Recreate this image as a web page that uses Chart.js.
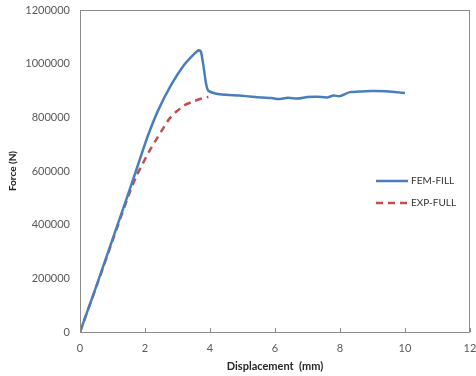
<!DOCTYPE html>
<html lang="en">
<head>
    <meta charset="UTF-8">
    <title>Force vs Displacement</title>
    <script src="https://cdn.jsdelivr.net/npm/chart.js"></script>
    <style>
        * {
            padding: 0px;
            margin: 0px;
            box-sizing: border-box;
        }

        body {
            background-color: #ffffff;
        }

        .chart-container {
            width: 476px;
            height: 376px;
        }
    </style>
</head>

<body>
    <div class="chart-container">
        <canvas id="chart1"></canvas>
    </div>

    <script>
        // FEM-FILL (blue, solid)
        const femX = [0, 0.5, 1.0, 1.5, 1.9, 2.1, 2.4, 2.8, 3.2, 3.5, 3.65, 3.72, 3.8, 3.88, 3.95, 4.2, 4.5, 4.9, 5.3, 5.6, 5.9, 6.1, 6.4, 6.7, 7.0, 7.3, 7.6, 7.8, 8.0, 8.3, 8.6, 9.0, 9.4, 9.8, 10.0];
        const femY = [0, 170000, 345000, 520000, 665000, 735000, 825000, 920000, 995000, 1035000, 1050000, 1045000, 990000, 925000, 899000, 888000, 884000, 881000, 877000, 874000, 872000, 868000, 873000, 870000, 876000, 877000, 874000, 881000, 879000, 894000, 896000, 898000, 897000, 893000, 891000];

        // EXP-FULL (red, dashed)
        const expX = [0, 0.5, 1.0, 1.5, 1.75, 1.95, 2.15, 2.35, 2.56, 2.77, 3.0, 3.2, 3.5, 3.75, 3.95];
        const expY = [0, 168000, 340000, 510000, 585000, 632000, 678000, 718000, 759000, 798000, 825000, 844000, 860000, 870000, 876000];

        const xTicks = [0, 2, 4, 6, 8, 10, 12];
        const yTicks = [0, 200000, 400000, 600000, 800000, 1000000, 1200000];

        const seriesNames = ['FEM-FILL', 'EXP-FULL'];

        const toPoints = (xs, ys) => xs.map((x, i) => ({ x: x, y: ys[i] }));

        const axisGray = '#8c8c8c';
        const labelGray = '#595959';

        // frame, inward x ticks and legend
        const framePlugin = {
            id: 'frame',
            afterDraw(chart) {
                const ctx = chart.ctx;
                const a = chart.chartArea;
                const xs = chart.scales.x;
                ctx.save();
                ctx.strokeStyle = axisGray;
                ctx.lineWidth = 1;
                ctx.strokeRect(a.left + 0.5, a.top + 0.5, a.right - a.left - 1, a.bottom - a.top);
                xTicks.forEach(t => {
                    const px = Math.round(xs.getPixelForValue(t)) + 0.5;
                    ctx.beginPath();
                    ctx.moveTo(px, a.bottom);
                    ctx.lineTo(px, a.bottom - 4);
                    ctx.stroke();
                });

                // legend
                ctx.font = '10px Lato';
                ctx.textBaseline = 'middle';
                ctx.fillStyle = '#333333';
                chart.data.datasets.forEach((ds, i) => {
                    const y = 181 + i * 22;
                    ctx.beginPath();
                    ctx.strokeStyle = ds.borderColor;
                    ctx.lineWidth = ds.borderWidth;
                    ctx.setLineDash(ds.borderDash || []);
                    ctx.moveTo(376, y);
                    ctx.lineTo(408, y);
                    ctx.stroke();
                    ctx.setLineDash([]);
                    ctx.fillText(ds.label, 411, y);
                });
                ctx.restore();
            }
        };

        const ctx = document.getElementById('chart1').getContext('2d');
        new Chart(ctx, {
            type: 'scatter',
            data: {
                datasets: [{
                    label: seriesNames[0],
                    data: toPoints(femX, femY),
                    showLine: true,
                    borderColor: '#4a7ebb',
                    borderWidth: 2.5,
                    pointRadius: 0,
                    tension: 0.25
                }, {
                    label: seriesNames[1],
                    data: toPoints(expX, expY),
                    showLine: true,
                    borderColor: '#c0504d',
                    borderWidth: 2.5,
                    borderDash: [7, 5],
                    pointRadius: 0,
                    tension: 0.3
                }]
            },
            options: {
                responsive: true,
                maintainAspectRatio: false,
                animation: false,
                layout: {
                    padding: { left: 0, right: 6, top: 10, bottom: 0 }
                },
                plugins: {
                    legend: { display: false },
                    tooltip: { enabled: false }
                },
                scales: {
                    x: {
                        type: 'linear',
                        min: 0,
                        max: 12,
                        afterBuildTicks: s => { s.ticks = xTicks.map(v => ({ value: v })); },
                        afterFit: s => {
                            s.height = 44;
                            s.paddingLeft = 0;
                            s.paddingRight = 0;
                        },
                        grid: { display: false, drawTicks: false },
                        border: { display: false },
                        ticks: {
                            color: labelGray,
                            font: { family: 'Lato', size: 11 },
                            padding: 10
                        },
                        title: {
                            display: true,
                            text: 'Displacement  (mm)',
                            color: '#262626',
                            font: { family: 'Lato', size: 11, weight: 'bold' },
                            padding: { top: 2, bottom: 3 }
                        }
                    },
                    y: {
                        min: 0,
                        max: 1200000,
                        afterBuildTicks: s => { s.ticks = yTicks.map(v => ({ value: v })); },
                        afterFit: s => {
                            s.width = 80;
                            s.paddingTop = 0;
                            s.paddingBottom = 0;
                        },
                        grid: { display: false, drawTicks: false },
                        border: { display: false },
                        ticks: {
                            color: labelGray,
                            font: { family: 'Lato', size: 11 },
                            padding: 10,
                            callback: v => String(v)
                        },
                        title: {
                            display: true,
                            text: 'Force (N)',
                            color: '#262626',
                            font: { family: 'Lato', size: 10, weight: 'bold' },
                            padding: { top: 7, bottom: 0 }
                        }
                    }
                }
            },
            plugins: [framePlugin]
        });
    </script>
</body>
</html>
